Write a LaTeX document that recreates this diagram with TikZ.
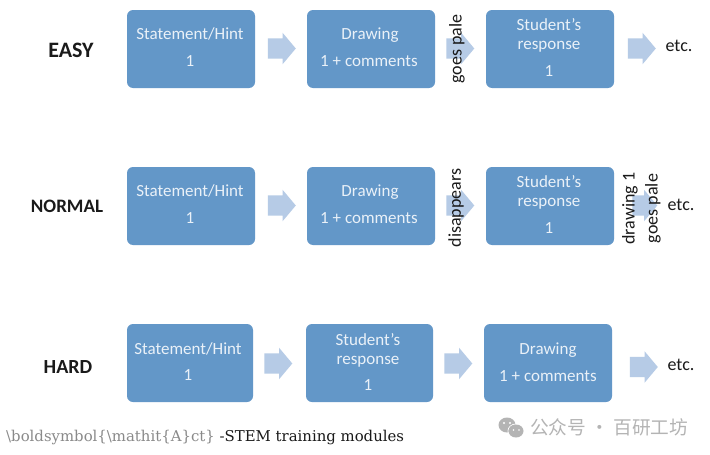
\documentclass[tikz,border=0pt]{standalone}
\usepackage{fontspec}
\setmainfont{Carlito}
\newfontfamily\cjkfont{Noto Sans CJK SC}
\newfontfamily\capfont{DejaVu Serif}
\usetikzlibrary{shapes.arrows}
\definecolor{boxblue}{HTML}{6397C8}
\definecolor{arrowblue}{HTML}{B6CBE6}
\definecolor{boxtext}{HTML}{EAF1F8}
\definecolor{ink}{HTML}{1A1A1A}
\definecolor{capgray}{HTML}{8A8A8A}
\definecolor{wmgray}{HTML}{B4B4B4}
\newcommand{\arrowbody}{\rule{0pt}{20pt}}
\tikzset{
  x=1pt,y=-1pt,
  panel/.style={fill=boxblue,rounded corners=6pt,minimum width=128pt,minimum height=78pt,inner sep=0pt,anchor=center},
  paneltext/.style={text=boxtext,font=\fontsize{17}{17}\selectfont,anchor=base,inner sep=0pt},
  blockarrow/.style={single arrow,fill=arrowblue,minimum height=28pt,single arrow head extend=5.5pt,single arrow tip angle=100,inner sep=0pt,anchor=center,xshift=-4.5pt},
  level/.style={text=ink,anchor=center,inner sep=0pt},
  etctext/.style={font=\fontsize{18}{18}\selectfont,text=ink,anchor=center,inner sep=0pt},
  sidenote/.style={font=\fontsize{18}{18}\selectfont,text=ink,rotate=90,anchor=center,inner sep=0pt,align=center},
}
\begin{document}
\begin{tikzpicture}
\useasboundingbox[fill=white] (0,0) rectangle (710,455);
% row 1
\node[level,font=\fontsize{22}{22}\selectfont\bfseries] (easy) at (71,50) {EASY};
\node[panel] (a1) at (191,49) {};
\node[paneltext] (a1t) at (190,39.5) {Statement/Hint};
\node[paneltext] (a1n) at (190,66.5) {1};
\node[blockarrow] (a1a) at (282,48.5) {\arrowbody};
\node[panel] (a2) at (371,49) {};
\node[paneltext] (a2t) at (370,39.5) {Drawing};
\node[paneltext] (a2n) at (369,66.5) {1 + comments};
\node[blockarrow] (a2a) at (460.5,48.5) {\arrowbody};
\node[panel] (a3) at (550,49) {};
\node[paneltext] (a3t) at (549,30.5) {Student’s};
\node[paneltext] (a3u) at (549,49.5) {response};
\node[paneltext] (a3n) at (549,76) {1};
\node[blockarrow] (a3a) at (642,48.5) {\arrowbody};
\node[etctext] (a4) at (679,46) {etc.};
\node[sidenote] (a5) at (457,49) {goes pale};
% row 2
\node[level,font=\fontsize{19}{19}\selectfont\bfseries] (normal) at (67,206) {NORMAL};
\node[panel] (b1) at (191,206) {};
\node[paneltext] (b1t) at (190,196.5) {Statement/Hint};
\node[paneltext] (b1n) at (190,223.5) {1};
\node[blockarrow] (b1a) at (282,205.5) {\arrowbody};
\node[panel] (b2) at (371,206) {};
\node[paneltext] (b2t) at (370,196.5) {Drawing};
\node[paneltext] (b2n) at (369,223.5) {1 + comments};
\node[blockarrow] (b2a) at (460.5,205.5) {\arrowbody};
\node[panel] (b3) at (550,206) {};
\node[paneltext] (b3t) at (549,187.5) {Student’s};
\node[paneltext] (b3u) at (549,206.5) {response};
\node[paneltext] (b3n) at (549,233) {1};
\node[blockarrow,minimum height=25pt] (b3a) at (645,205.5) {\arrowbody};
\node[etctext] (b4) at (681,205) {etc.};
\node[sidenote] (b5) at (456,208) {disappears};
\node[sidenote] (b6) at (641.5,208.5) {drawing 1\\[5pt]goes pale};
% row 3
\node[level,font=\fontsize{20}{20}\selectfont\bfseries] (hard) at (68,367) {HARD};
\node[panel,minimum width=126pt] (c1) at (190,363) {};
\node[paneltext] (c1t) at (188,354) {Statement/Hint};
\node[paneltext] (c1n) at (188,380.5) {1};
\node[blockarrow] (c1a) at (278.5,363.5) {\arrowbody};
\node[panel,minimum width=127pt] (c2) at (369.5,363) {};
\node[paneltext] (c2t) at (368,345) {Student’s};
\node[paneltext] (c2u) at (368,364) {response};
\node[paneltext] (c2n) at (368,390.5) {1};
\node[blockarrow] (c2a) at (458.5,363.5) {\arrowbody};
\node[panel] (c3) at (548,363) {};
\node[paneltext] (c3t) at (548,354) {Drawing};
\node[paneltext] (c3n) at (548,381) {1 + comments};
\node[blockarrow] (c3a) at (644,367) {\arrowbody};
\node[etctext] (c4) at (681,365) {etc.};
% caption
\node[anchor=base west,inner sep=0pt,font=\capfont\fontsize{14.9}{15}\selectfont] (cap) at (6,441) {\textcolor{capgray}{\string\boldsymbol\string{\string\mathit\string{A\string}ct\string}} \textcolor{ink}{-STEM training modules}};
% watermark
\fill[wmgray] (507,425) ellipse (8.5pt and 7.5pt);
\draw[white,line width=0.8pt] (516,431) ellipse (8pt and 7pt);
\fill[wmgray] (516,431) ellipse (7.5pt and 6.5pt);
\fill[white] (504,423) circle (1.1pt) (510,423) circle (1.1pt) (513.5,430) circle (0.9pt) (519,430) circle (0.9pt);
\node[anchor=west,inner sep=0pt,text=wmgray,font=\cjkfont\fontsize{18.7}{19}\selectfont] (wm) at (530,427) {公众号 · 百研工坊};
\end{tikzpicture}
\end{document}
